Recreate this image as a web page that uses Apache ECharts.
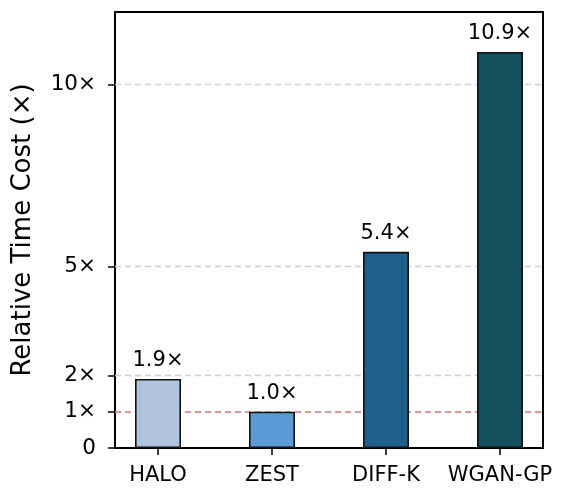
<!DOCTYPE html>
<html><head><meta charset="utf-8">
<script src="https://cdn.jsdelivr.net/npm/echarts@6/dist/echarts.min.js"></script>
<style>html,body{margin:0;padding:0;background:#fff}#c{width:568px;height:494px}</style>
</head><body><div id="c"></div>
<script>
const categories = ['HALO', 'ZEST', 'DIFF-K', 'WGAN-GP'];
const values = [1.9, 1.0, 5.4, 10.9];
const colors = ['#b0c4de', '#5b9bd5', '#1f5f8b', '#134e5c'];
const yTicks = [0, 1, 2, 5, 10];
const yTickLabels = ['0', '1×', '2×', '5×', '10×'];
const gridLineValues = [2, 5, 10];
const baselineValue = 1;
const yMax = 12;

const font = 'DejaVu Sans';
const chart = echarts.init(document.getElementById('c'), null, {renderer: 'canvas'});
const frameGrid = {left: 115, right: 25, top: 12, bottom: 46};
const barGrid = {left: 101, right: 11, top: 12, bottom: 46};
chart.setOption({
  animation: false,
  textStyle: {fontFamily: font},
  grid: [frameGrid, barGrid],
  xAxis: [
    {gridIndex: 0, type: 'value', min: 0, max: 1, axisLine: {show: true, onZero: false, lineStyle: {color: '#000', width: 2}},
     axisTick: {show: false}, axisLabel: {show: false}, splitLine: {show: false}},
    {gridIndex: 0, type: 'value', position: 'top', min: 0, max: 1, axisLine: {show: true, onZero: false, lineStyle: {color: '#000', width: 2}},
     axisTick: {show: false}, axisLabel: {show: false}, splitLine: {show: false}},
    {gridIndex: 1, type: 'category', data: categories, axisLine: {show: false},
     axisTick: {show: true, alignWithLabel: true, interval: 0, length: 7, lineStyle: {color: '#000', width: 1.5}},
     axisLabel: {color: '#000', fontSize: 21, fontFamily: font, margin: 17, interval: 0, hideOverlap: false}, splitLine: {show: false}}
  ],
  yAxis: [
    {gridIndex: 0, type: 'value', min: 0, max: yMax,
     name: 'Relative Time Cost (×)', nameLocation: 'middle', nameGap: 79,
     nameTextStyle: {color: '#000', fontSize: 26, fontFamily: font},
     axisLine: {show: true, onZero: false, lineStyle: {color: '#000', width: 2}},
     axisTick: {show: true, length: 7, customValues: yTicks, lineStyle: {color: '#000', width: 1.5}},
     axisLabel: {color: '#000', fontSize: 21.5, fontFamily: font, margin: 19, customValues: yTicks,
       formatter: v => { const i = yTicks.indexOf(v); return i >= 0 ? yTickLabels[i] : ''; }},
     splitLine: {show: false}},
    {gridIndex: 0, type: 'value', position: 'right', min: 0, max: yMax,
     axisLine: {show: true, onZero: false, lineStyle: {color: '#000', width: 2}},
     axisTick: {show: false}, axisLabel: {show: false}, splitLine: {show: false}},
    {gridIndex: 1, type: 'value', min: 0, max: yMax, show: false}
  ],
  series: [
    {type: 'line', xAxisIndex: 0, yAxisIndex: 0, data: [], silent: true, z: 1,
     markLine: {silent: true, symbol: 'none', label: {show: false}, animation: false, z: 1,
       data: gridLineValues.map(v => ({yAxis: v, lineStyle: {color: '#d0d0d0', type: [6, 4], width: 1.3}}))
         .concat([{yAxis: baselineValue, lineStyle: {color: '#e87070', type: [6, 4], width: 1.6}}])}},
    {type: 'bar', xAxisIndex: 2, yAxisIndex: 2, barWidth: 46, z: 5,
     data: values.map((v, i) => ({value: v, itemStyle: {color: colors[i]}})),
     itemStyle: {borderColor: '#111', borderWidth: 1.6},
     label: {show: true, position: 'top', distance: 8, color: '#000', fontSize: 21, fontFamily: font,
       formatter: p => p.value.toFixed(1) + '×'}}
  ]
});
</script></body></html>
